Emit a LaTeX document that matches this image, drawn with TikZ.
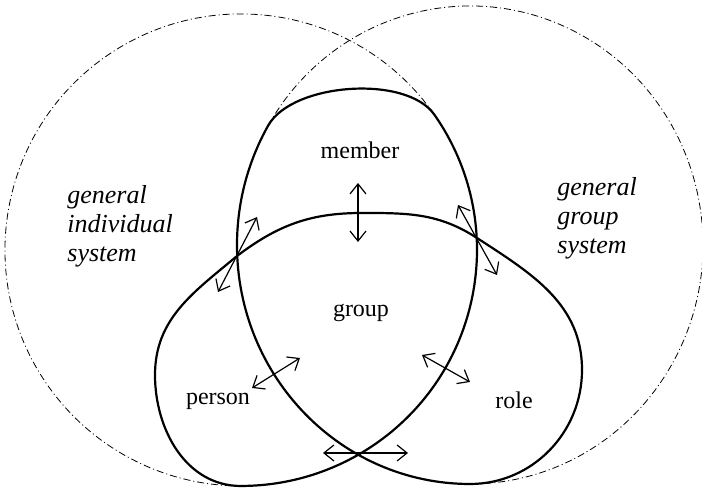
\documentclass[tikz,border=0pt]{standalone}
\usepackage{fontspec}
\setmainfont{Liberation Serif}
\usetikzlibrary{arrows.meta}

\begin{document}
\begin{tikzpicture}[x=0.5pt, y=0.5pt, line join=round,
    >={Straight Barb[length=5pt,width=8pt]},
    font=\fontsize{12}{13.5}\selectfont,
    sys/.style={line width=0.4pt,
      dash pattern=on 3.5pt off 1.5pt on 0.5pt off 1.5pt},
    knot/.style={line width=1.1pt},
    link/.style={<->, line width=0.6pt},
    syslabel/.style={align=left, anchor=north west, inner sep=0pt,
      font=\fontsize{13}{14.5}\selectfont\itshape}]
  \useasboundingbox (0,0) rectangle (702,490);
  % the two general systems
  \draw[sys] (434.3,375.4) arc[start angle=35, end angle=270, radius=236];
  \draw[sys] (268.2,364.5) arc[start angle=150, end angle=-90,
    x radius=233, y radius=239];
  % person, group, role and member in one line
  \draw[knot] (241,4) to[out=180, in=-90] (155,115)
    to[out=90, in=-140] (237,234)
    to[out=37, in=180] (362,277)
    to[out=0, in=147] (477,252)
    to[out=-33, in=90] (582,120)
    to[out=-90, in=0] (470,6)
    arc[start angle=270, end angle=150, x radius=233, y radius=239]
    .. controls +(60.6:49) and +(125:49) .. (434.3,375.4)
    arc[start angle=35, end angle=-90, radius=236] -- cycle;
  \foreach \ax/\ay/\bx/\by in {358/307/358/248, 218/198/257/273,
      458/285/497/215, 252/102/300/132, 422/135/470/108, 323/37/408/37}
    \draw[link] (\ax,\ay) -- (\bx,\by);
  \node (member) at (360,340) {member};
  \node (group) at (361,177) {group};
  \node (person) at (218,89) {person};
  \node (role) at (514,90) {role};
  \node[syslabel] (indiv) at (67,305) {general\\individual\\system};
  \node[syslabel] (grpsys) at (557,313) {general\\group\\system};
\end{tikzpicture}
\end{document}
